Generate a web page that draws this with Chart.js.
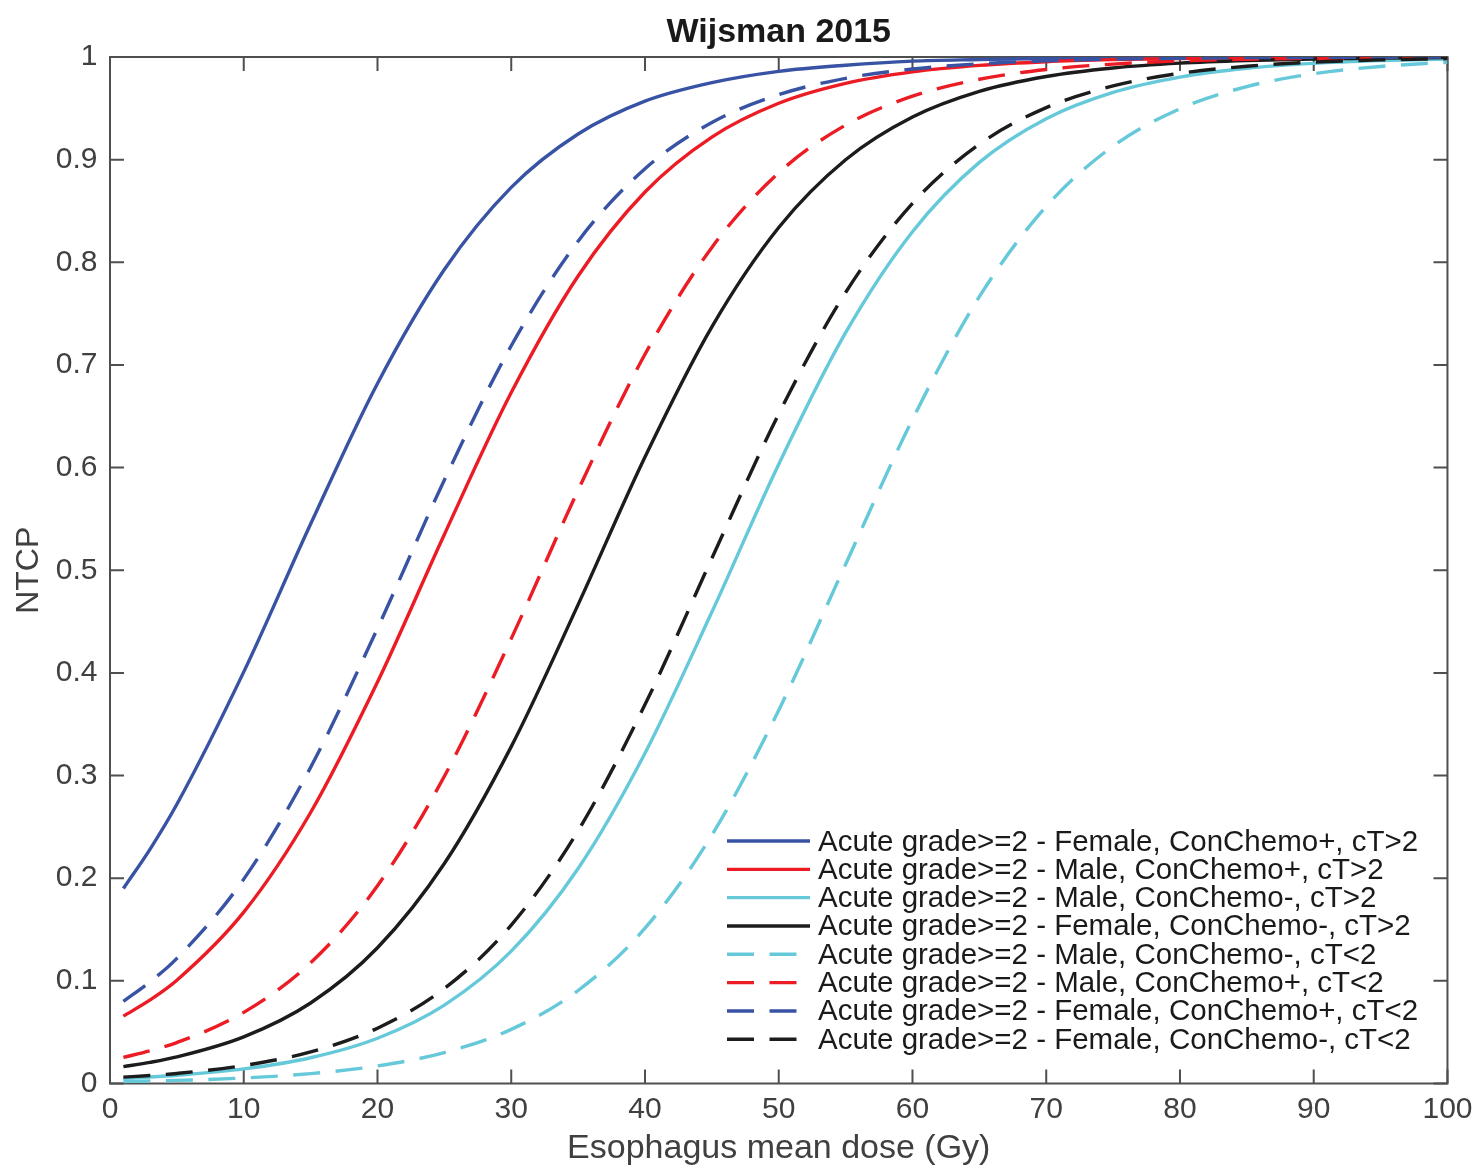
<!DOCTYPE html>
<html>
<head>
<meta charset="utf-8">
<script src="https://cdn.jsdelivr.net/npm/chart.js@4.4.1/dist/chart.umd.min.js"></script>
<style>
  html, body { margin: 0; padding: 0; background: #ffffff; }
  #wrap { width: 1481px; height: 1172px; position: relative; }
</style>
</head>
<body>
<div id="wrap"><canvas id="c" width="1481" height="1172"></canvas></div>
<script>
// ---------- data ----------
const dose = [1, 3, 5, 10, 15, 20, 25, 30, 35, 40, 45, 50, 55, 60, 65, 70, 75, 80, 85, 90, 95, 100];

const femaleChemoPlusCTgt2  = [0.190, 0.2284, 0.272, 0.401, 0.545, 0.682, 0.793, 0.873, 0.925, 0.957, 0.975, 0.986, 0.992, 0.996, 0.9975, 0.9986, 0.9992, 0.9996, 0.9998, 0.9999, 0.9999, 1.0];
const maleChemoPlusCTgt2    = [0.0656, 0.0814, 0.1006, 0.1669, 0.2640, 0.3911, 0.5349, 0.6731, 0.7867, 0.8685, 0.9220, 0.9549, 0.9743, 0.9855, 0.9918, 0.9954, 0.9974, 0.9986, 0.9992, 0.9996, 0.9998, 0.9999];
const maleChemoMinCTgt2     = [0.0050, 0.0063, 0.0080, 0.0142, 0.0251, 0.0441, 0.0764, 0.1289, 0.2095, 0.3218, 0.4593, 0.6033, 0.7314, 0.8298, 0.8973, 0.9399, 0.9655, 0.9804, 0.9890, 0.9938, 0.9965, 0.9981];
const femaleChemoMinCTgt2   = [0.0164, 0.0206, 0.0259, 0.0454, 0.0784, 0.1322, 0.2143, 0.3282, 0.4665, 0.6103, 0.7371, 0.8339, 0.8999, 0.9415, 0.9665, 0.9810, 0.9893, 0.9940, 0.9966, 0.9981, 0.9989, 0.9994];
const maleChemoMinCTlt2     = [0.0019, 0.0024, 0.0030, 0.0054, 0.0096, 0.0171, 0.0301, 0.0527, 0.0906, 0.1513, 0.2420, 0.3637, 0.5058, 0.6470, 0.7665, 0.8545, 0.9132, 0.9496, 0.9712, 0.9837, 0.9908, 0.9949];
const maleChemoPlusCTlt2    = [0.0254, 0.0319, 0.0399, 0.0693, 0.1176, 0.1926, 0.2993, 0.4334, 0.5780, 0.7104, 0.8145, 0.8872, 0.9337, 0.9618, 0.9783, 0.9878, 0.9931, 0.9962, 0.9978, 0.9988, 0.9993, 0.9996];
const femaleChemoPlusCTlt2  = [0.0801, 0.0991, 0.1219, 0.1991, 0.3080, 0.4434, 0.5879, 0.7187, 0.8206, 0.8912, 0.9362, 0.9633, 0.9792, 0.9883, 0.9934, 0.9963, 0.9979, 0.9988, 0.9994, 0.9996, 0.9998, 0.9999];
const femaleChemoMinCTlt2   = [0.0062, 0.0078, 0.0098, 0.0175, 0.0308, 0.0539, 0.0925, 0.1543, 0.2463, 0.3691, 0.5116, 0.6523, 0.7706, 0.8574, 0.9150, 0.9507, 0.9718, 0.9841, 0.9910, 0.9950, 0.9972, 0.9984];

const seriesLabels = [
  'Acute grade>=2 - Female, ConChemo+, cT>2',
  'Acute grade>=2 - Male, ConChemo+, cT>2',
  'Acute grade>=2 - Male, ConChemo-, cT>2',
  'Acute grade>=2 - Female, ConChemo-, cT>2',
  'Acute grade>=2 - Male, ConChemo-, cT<2',
  'Acute grade>=2 - Male, ConChemo+, cT<2',
  'Acute grade>=2 - Female, ConChemo+, cT<2',
  'Acute grade>=2 - Female, ConChemo-, cT<2'
];
const seriesValues = [
  femaleChemoPlusCTgt2, maleChemoPlusCTgt2, maleChemoMinCTgt2, femaleChemoMinCTgt2,
  maleChemoMinCTlt2, maleChemoPlusCTlt2, femaleChemoPlusCTlt2, femaleChemoMinCTlt2
];

const xTickValues = [0, 10, 20, 30, 40, 50, 60, 70, 80, 90, 100];
const xTickLabels = ['0', '10', '20', '30', '40', '50', '60', '70', '80', '90', '100'];
const yTickValues = [0, 0.1, 0.2, 0.3, 0.4, 0.5, 0.6, 0.7, 0.8, 0.9, 1];
const yTickLabels = ['0', '0.1', '0.2', '0.3', '0.4', '0.5', '0.6', '0.7', '0.8', '0.9', '1'];

const chartTitle = 'Wijsman 2015';
const xTitle = 'Esophagus mean dose (Gy)';
const yTitle = 'NTCP';

// ---------- styles ----------
const BLUE = '#3853a4', RED = '#ec1c24', CYAN = '#66c9da', BLACK = '#1c1c1c';
const seriesColors = [BLUE, RED, CYAN, BLACK, CYAN, RED, BLUE, BLACK];
const DASH = [27, 15.5];
const seriesDashes = [[], [], [], [], DASH, DASH, DASH, DASH];
const FONT = "'Liberation Sans', Arial, Helvetica, sans-serif";
const AXIS_COLOR = '#4f4f4f';
const LABEL_COLOR = '#404040';
const LINE_W = 3.4;

// ---------- plugins ----------
const matlabBox = {
  id: 'matlabBox',
  beforeDatasetsDraw(chart) {
    const { ctx, chartArea: a, scales: { x, y } } = chart;
    ctx.save();
    ctx.strokeStyle = AXIS_COLOR;
    ctx.lineWidth = 2;
    ctx.strokeRect(a.left, a.top, a.right - a.left, a.bottom - a.top);
    const L = 14;
    ctx.beginPath();
    x.ticks.forEach(t => {
      const px = x.getPixelForValue(t.value);
      ctx.moveTo(px, a.bottom); ctx.lineTo(px, a.bottom - L);
      ctx.moveTo(px, a.top); ctx.lineTo(px, a.top + L);
    });
    y.ticks.forEach(t => {
      const py = y.getPixelForValue(t.value);
      ctx.moveTo(a.left, py); ctx.lineTo(a.left + L, py);
      ctx.moveTo(a.right, py); ctx.lineTo(a.right - L, py);
    });
    ctx.stroke();
    ctx.restore();
  }
};

const matlabLegend = {
  id: 'matlabLegend',
  afterDatasetsDraw(chart) {
    const { ctx } = chart;
    const x0 = 727, x1 = 810, tx = 818, y0 = 841, dy = 28.33;
    ctx.save();
    chart.data.datasets.forEach((ds, i) => {
      const yy = y0 + dy * i;
      ctx.beginPath();
      ctx.strokeStyle = ds.borderColor;
      ctx.lineWidth = ds.borderWidth;
      ctx.setLineDash(ds.borderDash || []);
      ctx.moveTo(x0, yy); ctx.lineTo(x1, yy);
      ctx.stroke();
      ctx.setLineDash([]);
      ctx.fillStyle = '#1a1a1a';
      ctx.font = `29.5px ${FONT}`;
      ctx.textAlign = 'left';
      ctx.textBaseline = 'alphabetic';
      ctx.fillText(ds.label, tx, yy + 9.5);
    });
    ctx.restore();
  }
};

// ---------- chart ----------
const datasets = seriesValues.map((vals, i) => ({
  label: seriesLabels[i],
  data: dose.map((d, j) => ({ x: d, y: vals[j] })),
  borderColor: seriesColors[i],
  backgroundColor: seriesColors[i],
  borderWidth: LINE_W,
  borderDash: seriesDashes[i],
  borderCapStyle: 'butt',
  pointRadius: 0,
  fill: false,
  cubicInterpolationMode: 'monotone',
  order: seriesValues.length - 1 - i
}));

new Chart(document.getElementById('c'), {
  type: 'line',
  data: { datasets },
  options: {
    responsive: false,
    animation: false,
    devicePixelRatio: 1,
    layout: { padding: { left: 0, right: 33, top: 0, bottom: 0 } },
    plugins: {
      legend: { display: false },
      tooltip: { enabled: false },
      title: {
        display: true, text: chartTitle, color: '#1a1a1a', fullSize: false,
        font: { family: FONT, size: 34, weight: 'bold', lineHeight: 1.2 },
        padding: { top: 12.6, bottom: 3.6 }
      }
    },
    scales: {
      x: {
        type: 'linear', position: 'bottom', min: 0, max: 100,
        afterFit(s) { s.height = 88.5; },
        afterBuildTicks(s) { s.ticks = xTickValues.map(v => ({ value: v })); },
        grid: { display: false, drawTicks: false },
        border: { display: false },
        ticks: {
          padding: 8.5, color: LABEL_COLOR, autoSkip: false, maxRotation: 0,
          font: { family: FONT, size: 30, lineHeight: 1.2 },
          callback: (v, i) => xTickLabels[i]
        },
        title: {
          display: true, text: xTitle, color: LABEL_COLOR,
          font: { family: FONT, size: 34, lineHeight: 1.2 },
          padding: { top: 0, bottom: 3.1 }
        }
      },
      y: {
        type: 'linear', position: 'left', min: 0, max: 1,
        afterFit(s) { s.width = 110; },
        afterBuildTicks(s) { s.ticks = yTickValues.map(v => ({ value: v })); },
        grid: { display: false, drawTicks: false },
        border: { display: false },
        ticks: {
          padding: 12.5, color: LABEL_COLOR, autoSkip: false,
          font: { family: FONT, size: 30, lineHeight: 1.2 },
          callback: (v, i) => yTickLabels[i]
        },
        title: {
          display: true, text: yTitle, color: LABEL_COLOR,
          font: { family: FONT, size: 32, lineHeight: 1.2 },
          padding: { top: 10.3, bottom: 0 }
        }
      }
    }
  },
  plugins: [matlabBox, matlabLegend]
});
</script>
</body>
</html>
